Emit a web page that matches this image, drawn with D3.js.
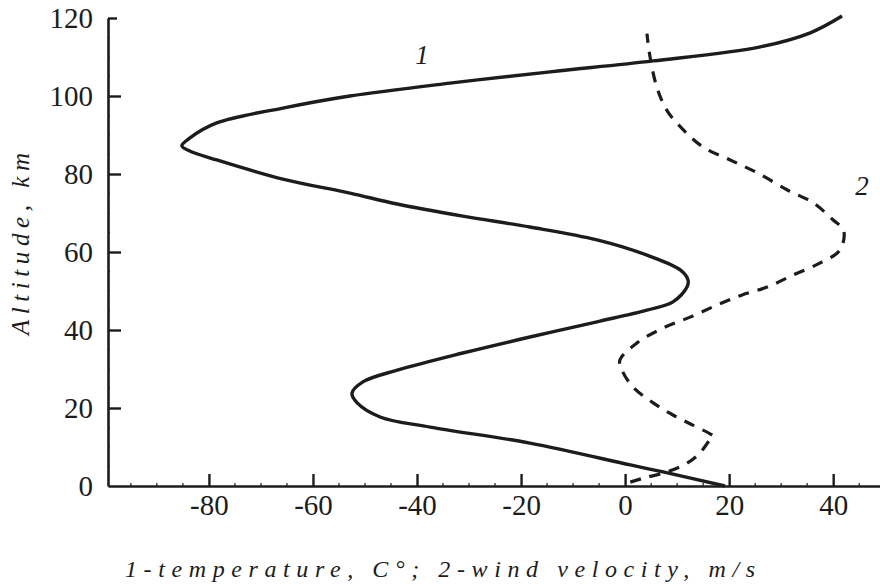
<!DOCTYPE html>
<html>
<head>
<meta charset="utf-8">
<script src="https://cdn.jsdelivr.net/npm/d3@7"></script>
<style>
  html, body { margin: 0; padding: 0; background: #fff; }
  svg { display: block; }
  .serif { font-family: "Liberation Serif", "Times New Roman", Tinos, "Noto Serif", "DejaVu Serif", FreeSerif, serif; }
</style>
</head>
<body>
<svg id="chart" width="880" height="586"></svg>
<script>
// ---- data ----
const xTicks = [-80, -60, -40, -20, 0, 20, 40];
const yTicks = [0, 20, 40, 60, 80, 100, 120];

// Curve 1: temperature (°C) vs altitude (km)
const tempValues = [19.2, 7.3, 1.0, -18.3, -37.5, -47.1, -51.5, -52.5, -50.4, -43.8, -31.2, -18.3, -5.4, 4.2, 9.2, 11.9, 12.1, 10.6, 4.2, -5.4, -18.3, -31.2, -43.8, -52.9, -65.8, -78.5, -83.7, -85.2, -83.7, -78.5, -65.8, -52.9, -33.7, -14.4, 5.4, 26, 35.6, 41.7];
const tempAltitudes = [0, 3.6, 5.4, 11.0, 15.1, 17.7, 21.3, 23.8, 26.7, 29.7, 34.1, 38.2, 42.1, 45.1, 47.2, 51.0, 52.8, 55.4, 59.2, 63.1, 66.4, 69.2, 72.3, 75.1, 78.7, 83.6, 85.9, 87.2, 89.2, 93.1, 96.9, 100, 103.3, 106.2, 109, 112.6, 116.2, 120.5];

// Curve 2: wind velocity (m/s) vs altitude (km)
const windValues = [1, 3.5, 8, 12, 14.4, 16.3, 17, 13, 9.2, 5.4, 1.5, -0.6, -1, 2.3, 7.3, 12.5, 17.7, 22.5, 27.3, 32.3, 37.5, 41.3, 42, 40, 36.2, 31.2, 25.4, 20.2, 15, 11.2, 8, 6.1, 4.8, 4.2];
const windAltitudes = [1, 2, 3.6, 5.9, 8.5, 11.8, 12.6, 15.6, 18.2, 21.3, 25.4, 29.7, 32.3, 36.7, 40.5, 43.3, 46.4, 49, 51, 54.1, 57.2, 60.5, 65.6, 68.2, 72.6, 75.9, 80.3, 83.6, 86.9, 91.3, 96.4, 102.3, 110, 116];

const curveLabels = ["1", "2"];
const xTitle = "1-temperature, C°; 2-wind velocity, m/s";
const yTitle = "Altitude, km";

// ---- drawing ----
const svg = d3.select("#chart");
const ink = "#1c1c1c";

const x = d3.scaleLinear().domain([-99.4, 49]).range([108, 880]);
const y = d3.scaleLinear().domain([0, 120]).range([486, 18]);

// minor ticks
const minorX = d3.range(-95, 49, 5).filter(v => v % 20 !== 0);
const minorY = d3.range(5, 120, 5).filter(v => v % 20 !== 0);

svg.append("g").selectAll("line").data(minorX).join("line")
  .attr("x1", d => x(d)).attr("x2", d => x(d))
  .attr("y1", y(0)).attr("y2", y(0) - 3)
  .attr("stroke", ink).attr("stroke-width", 1.2);
svg.append("g").selectAll("line").data(minorY).join("line")
  .attr("x1", x(-99.4)).attr("x2", x(-99.4) + 2)
  .attr("y1", d => y(d)).attr("y2", d => y(d))
  .attr("stroke", ink).attr("stroke-width", 1.2);

// x axis (ticks inward/up)
const xAxis = d3.axisBottom(x).tickValues(xTicks).tickSize(0).tickPadding(10)
  .tickFormat(d => d < 0 ? "-" + Math.abs(d) : String(d));
const gx = svg.append("g").attr("transform", `translate(0,${y(0)})`).call(xAxis);
gx.attr("font-family", null);
gx.select(".domain").attr("stroke", ink).attr("stroke-width", 2.6);
gx.selectAll(".tick text").attr("class", "serif").attr("font-size", 29)
  .attr("fill", ink).attr("dy", "0.75em").attr("y", 7);
gx.selectAll(".tick").append("line")
  .attr("y1", 0).attr("y2", -12).attr("stroke", ink).attr("stroke-width", 2.4);

// y axis (ticks inward/right)
const yAxis = d3.axisLeft(y).tickValues(yTicks).tickSize(0).tickPadding(15);
const gy = svg.append("g").attr("transform", `translate(${x(-99.4)},0)`).call(yAxis);
gy.attr("font-family", null);
gy.select(".domain").attr("stroke", ink).attr("stroke-width", 2.6);
gy.selectAll(".tick text").attr("class", "serif").attr("font-size", 29)
  .attr("fill", ink).attr("dy", "0.34em");
gy.selectAll(".tick").filter(d => d > 0).append("line")
  .attr("x1", 0).attr("x2", d => d === 120 ? 9 : 13)
  .attr("stroke", ink).attr("stroke-width", 2.4);

// curves
const line = d3.line()
  .x(d => x(d[0])).y(d => y(d[1]))
  .curve(d3.curveCatmullRom.alpha(0.5));

const tempData = tempValues.map((v, i) => [v, tempAltitudes[i]]);
const windData = windValues.map((v, i) => [v, windAltitudes[i]]);

svg.append("path").datum(tempData).attr("d", line)
  .attr("fill", "none").attr("stroke", ink).attr("stroke-width", 3.4)
  .attr("stroke-linejoin", "round");

svg.append("path").datum(windData).attr("d", line)
  .attr("fill", "none").attr("stroke", ink).attr("stroke-width", 3.2)
  .attr("stroke-dasharray", "11,9");

// curve labels
svg.append("text").attr("class", "serif").attr("x", 422).attr("y", 64)
  .attr("font-style", "italic").attr("font-size", 27)
  .attr("text-anchor", "middle").attr("fill", ink).text(curveLabels[0]);
svg.append("text").attr("class", "serif").attr("x", 862).attr("y", 195)
  .attr("font-style", "italic").attr("font-size", 27)
  .attr("text-anchor", "middle").attr("fill", ink).text(curveLabels[1]);

// axis titles
svg.append("text").attr("class", "serif").attr("x", 125).attr("y", 577)
  .attr("font-style", "italic").attr("font-size", 24)
  .attr("textLength", 630).attr("lengthAdjust", "spacing")
  .attr("fill", ink).text(xTitle);

svg.append("text").attr("class", "serif")
  .attr("transform", "translate(29,335) rotate(-90)")
  .attr("font-style", "italic").attr("font-size", 25)
  .attr("textLength", 182).attr("lengthAdjust", "spacing")
  .attr("fill", ink).text(yTitle);
</script>
</body>
</html>
